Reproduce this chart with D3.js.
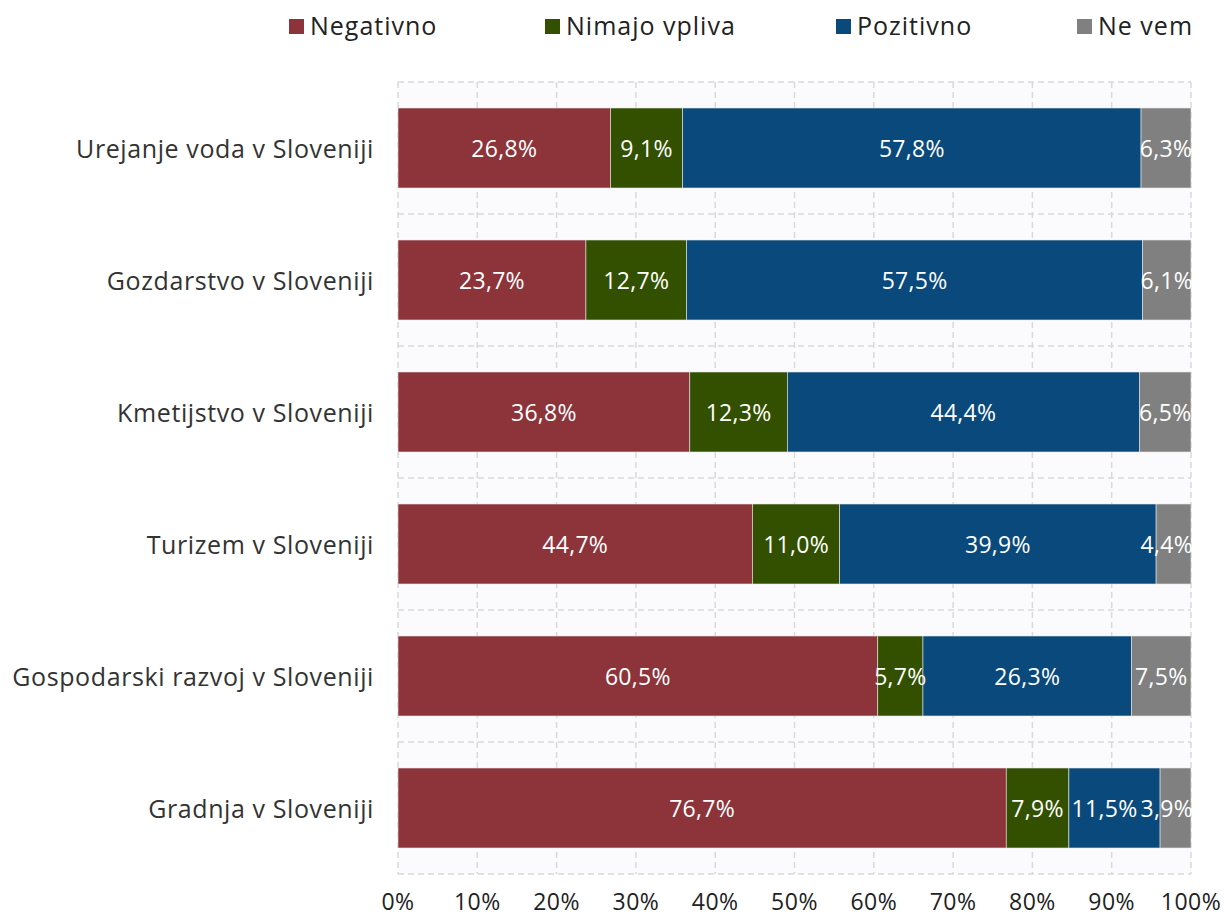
<!DOCTYPE html>
<html>
<head>
<meta charset="utf-8">
<script src="https://cdn.jsdelivr.net/npm/d3@7"></script>
<style>
body { margin: 0; background: #fff; font-family: "Open Sans", Lato, sans-serif; }
</style>
</head>
<body>
<script>
var categories = ['Urejanje voda v Sloveniji', 'Gozdarstvo v Sloveniji', 'Kmetijstvo v Sloveniji',
	'Turizem v Sloveniji', 'Gospodarski razvoj v Sloveniji', 'Gradnja v Sloveniji'];
var seriesNames = ['Negativno', 'Nimajo vpliva', 'Pozitivno', 'Ne vem'];
var negativno = [26.8, 23.7, 36.8, 44.7, 60.5, 76.7];
var nimajo = [9.1, 12.7, 12.3, 11.0, 5.7, 7.9];
var pozitivno = [57.8, 57.5, 44.4, 39.9, 26.3, 11.5];
var neVem = [6.3, 6.1, 6.5, 4.4, 7.5, 3.9];
var ticks = [0, 10, 20, 30, 40, 50, 60, 70, 80, 90, 100];
var colors = ['#8c343a', '#325000', '#0a497b', '#808080'];

var W = 1225, H = 918;
var pLeft = 398, pRight = 1191, pTop = 82, pBottom = 874;

var svg = d3.select('body').append('svg').attr('width', W).attr('height', H);

var x = d3.scaleLinear().domain([0, 100]).range([pLeft, pRight]);
var y = d3.scaleBand().domain(categories).range([pTop, pBottom]).paddingInner(0.394).paddingOuter(0.197);

// plot background
svg.append('rect').attr('x', pLeft).attr('y', pTop).attr('width', pRight - pLeft).attr('height', pBottom - pTop)
	.attr('fill', '#fbfbfd');

// vertical grid
svg.selectAll('line.vgrid').data(ticks).enter().append('line')
	.attr('class', 'vgrid')
	.attr('x1', function(d) { return x(d); }).attr('x2', function(d) { return x(d); })
	.attr('y1', pTop).attr('y2', pBottom)
	.attr('stroke', '#d9d9d9').attr('stroke-width', 1.5).attr('stroke-dasharray', '6,4');

// horizontal band separators
var step = y.step();
var hlines = d3.range(categories.length + 1).map(function(i) { return pTop + i * step; });
svg.selectAll('line.hgrid').data(hlines).enter().append('line')
	.attr('class', 'hgrid')
	.attr('x1', pLeft).attr('x2', pRight)
	.attr('y1', function(d) { return d; }).attr('y2', function(d) { return d; })
	.attr('stroke', '#d9d9d9').attr('stroke-width', 1.5).attr('stroke-dasharray', '6,4');

var rows = categories.map(function(c, i) {
	return { cat: c, vals: [negativno[i], nimajo[i], pozitivno[i], neVem[i]] };
});

rows.forEach(function(r) {
	var segs = [];
	var acc = 0;
	r.vals.forEach(function(v, k) {
		segs.push({ x0: acc, x1: acc + v, v: v, k: k });
		acc += v;
	});

	var g = svg.append('g');
	g.selectAll('rect').data(segs).enter().append('rect')
		.attr('x', function(d) { return x(d.x0); })
		.attr('width', function(d) { return x(d.x1) - x(d.x0); })
		.attr('y', y(r.cat))
		.attr('height', y.bandwidth())
		.attr('fill', function(d) { return colors[d.k]; })
		.attr('stroke', '#e6e6e6').attr('stroke-width', 0.6);

	var labels = g.selectAll('text').data(segs).enter().append('text')
		.attr('y', y(r.cat) + y.bandwidth() / 2 + 9)
		.attr('text-anchor', 'middle')
		.attr('fill', '#fff')
		.style('font-size', '23px')
		.style('letter-spacing', '0.3px')
		.text(function(d) { return d.v.toFixed(1).replace('.', ',') + '%'; });

	// keep labels inside the plot and apart from each other
	var nodes = labels.nodes();
	var limit = pRight + 2;
	for (var k = segs.length - 1; k >= 0; k--) {
		var w = nodes[k].getComputedTextLength();
		var cx = (x(segs[k].x0) + x(segs[k].x1)) / 2;
		if (cx + w / 2 > limit) cx = limit - w / 2;
		d3.select(nodes[k]).attr('x', cx);
		limit = cx - w / 2 - 3;
	}
});

// x axis labels
svg.selectAll('text.xt').data(ticks).enter().append('text')
	.attr('class', 'xt')
	.attr('x', function(d) { return x(d); })
	.attr('y', 910)
	.attr('text-anchor', 'middle')
	.attr('fill', '#222')
	.style('font-size', '23px')
	.style('letter-spacing', '0.5px')
	.text(function(d) { return d + '%'; });

// category labels
svg.selectAll('text.cat').data(categories).enter().append('text')
	.attr('class', 'cat')
	.attr('x', 374)
	.attr('y', function(d) { return y(d) + y.bandwidth() / 2 + 10; })
	.attr('text-anchor', 'end')
	.attr('fill', '#333')
	.style('font-size', '25px')
	.style('letter-spacing', '0.6px')
	.text(function(d) { return d; });

// legend
var legendX = [289, 545, 836, 1077];
var leg = svg.selectAll('g.leg').data(seriesNames).enter().append('g')
	.attr('class', 'leg')
	.attr('transform', function(d, i) { return 'translate(' + legendX[i] + ',0)'; });
leg.append('rect').attr('x', 0).attr('y', 19).attr('width', 15).attr('height', 15)
	.attr('fill', function(d, i) { return colors[i]; });
leg.append('text').attr('x', 21).attr('y', 35)
	.attr('fill', '#222')
	.style('font-size', '25px')
	.style('letter-spacing', '1px')
	.text(function(d) { return d; });
</script>
</body>
</html>
